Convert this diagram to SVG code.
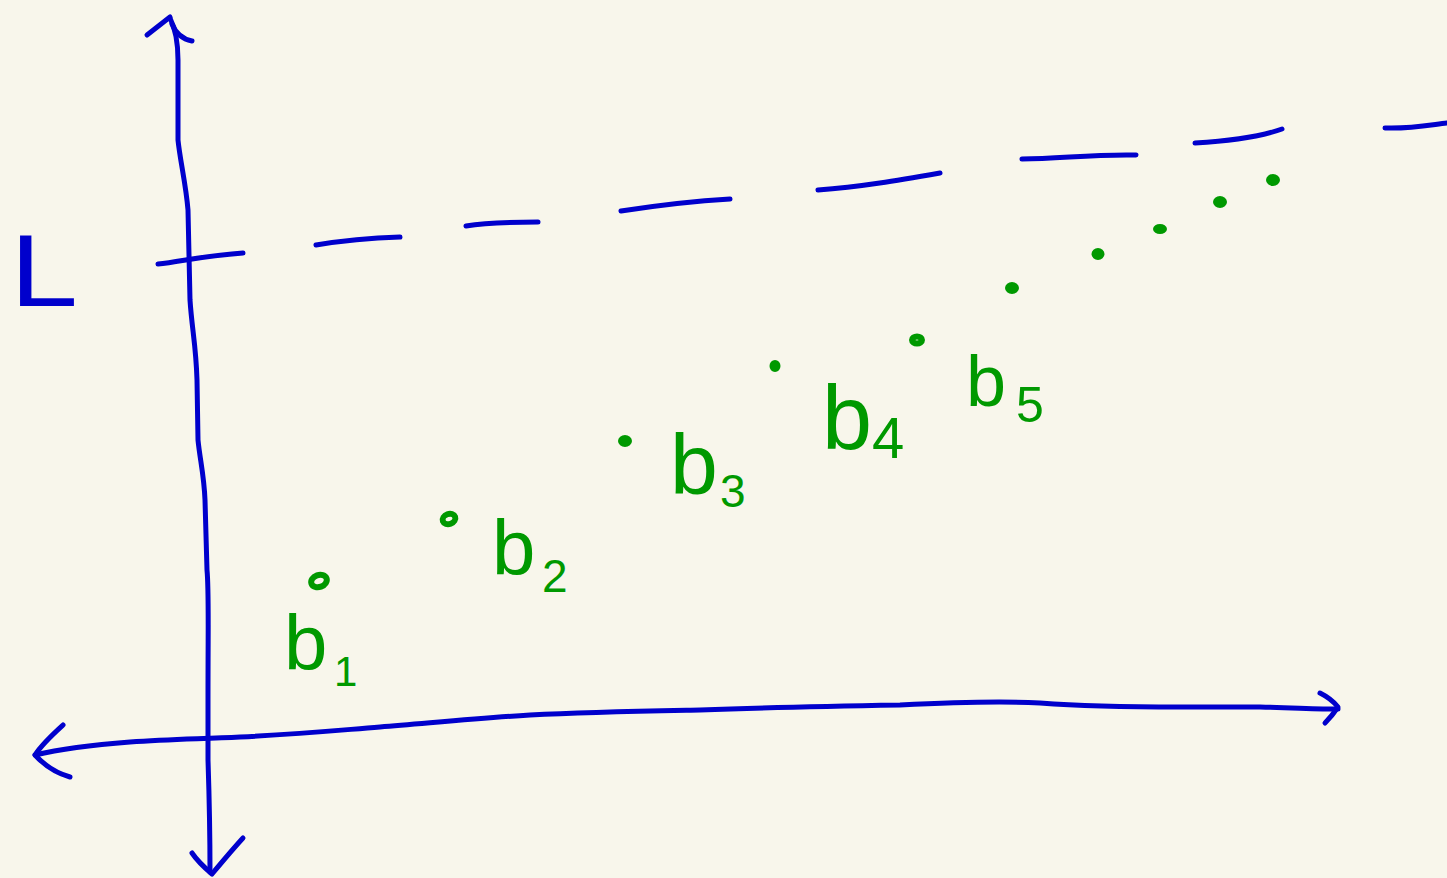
<svg xmlns="http://www.w3.org/2000/svg" width="1447" height="878" viewBox="0 0 1447 878">
<style>
.ink{fill:none;stroke:#0000CC;stroke-width:5;stroke-linecap:round;stroke-linejoin:round}
.dot{fill:#009900;stroke:#009900;stroke-width:3}
.ring{fill:none;stroke:#009900;stroke-width:6}
.lbl{font-family:"Liberation Sans","DejaVu Sans",sans-serif;fill:#009900}
.lblL{font-family:"Liberation Sans","DejaVu Sans",sans-serif;fill:#0000CC}
</style>
<rect width="1447" height="878" fill="#F8F6EB"/>
<g id="connectors">
  <g id="y-axis">
    <path class="ink" d="M170,18 C176,30 178,45 178,60 L178,140 C180,160 186,185 188,210 L190,300 C192,330 196,345 197,380 L198,440 C200,460 204,475 205,500 L207,570 C209,590 208,620 208,700 L208,760 C209,790 210,830 210,872"/>
    <path class="ink" d="M147,35 L170,17 M172,24 C176,34 182,39 192,41"/>
    <path class="ink" d="M192,853 C198,862 205,868 212,874 C222,862 232,850 243,838"/>
  </g>
  <g id="x-axis">
    <path class="ink" d="M35,755 C60,749 90,745 130,742 C170,739 200,739 240,737 C300,734 330,731 380,727 C430,723 480,718 530,715 C590,712 650,711 700,710 C780,707 840,706 900,705 C960,702 1000,701 1040,703 C1080,706 1120,707 1180,707 L1260,707 C1300,708 1320,709 1338,709"/>
    <path class="ink" d="M63,725 C52,735 42,744 35,755 C45,766 56,773 70,777"/>
    <path class="ink" d="M1320,693 C1328,697 1334,702 1338,707 C1334,713 1330,718 1325,723"/>
  </g>
  <g id="limit-line">
    <path class="ink" d="M158,264 C180,262 200,256 243,253"/>
    <path class="ink" d="M316,245 C340,241 370,238 400,237"/>
    <path class="ink" d="M466,226 C490,222 515,222 538,222"/>
    <path class="ink" d="M621,211 C660,205 695,201 730,199"/>
    <path class="ink" d="M818,190 C860,187 900,180 940,173"/>
    <path class="ink" d="M1022,159 C1060,159 1090,154 1136,155"/>
    <path class="ink" d="M1195,143 C1230,141 1260,137 1282,129"/>
    <path class="ink" d="M1385,128 C1410,129 1430,125 1447,123"/>
  </g>
</g>
<g id="label-L">
  <text class="lblL" x="10" y="306" font-size="102" textLength="68" lengthAdjust="spacingAndGlyphs">L</text>
</g>
<g id="points">
  <ellipse class="ring" cx="319" cy="581" rx="8" ry="6" transform="rotate(-20 319 581)"/>
  <ellipse class="ring" cx="449" cy="519" rx="6.5" ry="5" transform="rotate(-20 449 519)"/>
  <ellipse class="dot" cx="625" cy="441" rx="5.5" ry="4.5"/>
  <ellipse class="dot" cx="775" cy="366" rx="4" ry="4.5"/>
  <ellipse class="ring" cx="917" cy="340" rx="5" ry="3.5"/>
  <ellipse class="dot" cx="1012" cy="288" rx="5.5" ry="4.5"/>
  <ellipse class="dot" cx="1098" cy="254" rx="5" ry="4.5"/>
  <ellipse class="dot" cx="1160" cy="229" rx="5.5" ry="3.5"/>
  <ellipse class="dot" cx="1220" cy="202" rx="5.5" ry="4.5"/>
  <ellipse class="dot" cx="1273" cy="180" rx="5.5" ry="4.5"/>
</g>
<g id="label-b1">
  <text class="lbl" x="284" y="670" font-size="78">b</text>
  <text class="lbl" x="334" y="686" font-size="42">1</text>
</g>
<g id="label-b2">
  <text class="lbl" x="492" y="575" font-size="78">b</text>
  <text class="lbl" x="542" y="592" font-size="46">2</text>
</g>
<g id="label-b3">
  <text class="lbl" x="670" y="494" font-size="86">b</text>
  <text class="lbl" x="720" y="507" font-size="46">3</text>
</g>
<g id="label-b4">
  <text class="lbl" x="822" y="449" font-size="90">b</text>
  <text class="lbl" x="872" y="458" font-size="58">4</text>
</g>
<g id="label-b5">
  <text class="lbl" x="966" y="406" font-size="72">b</text>
  <text class="lbl" x="1016" y="422" font-size="50">5</text>
</g>
</svg>
